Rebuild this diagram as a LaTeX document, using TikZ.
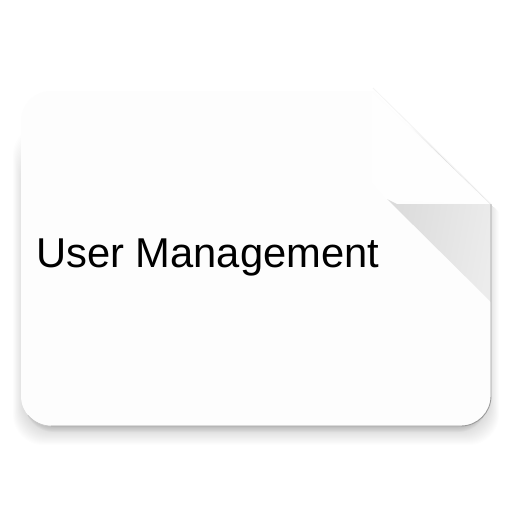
\documentclass[tikz,border=0pt]{standalone}
\usepackage{fontspec}
\setmainfont{Liberation Sans}
\definecolor{pagefill}{HTML}{FDFDFD}
\definecolor{flapfill}{HTML}{FEFEFE}
\definecolor{edgegrey}{HTML}{9A9A9A}
\definecolor{foldline}{HTML}{F4F4F4}
\definecolor{foldA}{HTML}{DBDBDB}
\definecolor{foldB}{HTML}{ECECEC}
\newcommand{\cardpath}{(51,91) -- (373,91) -- (491,205) -- (491,396) arc[start angle=0,end angle=90,radius=30] -- (51,426) arc[start angle=90,end angle=180,radius=30] -- (21,121) arc[start angle=180,end angle=270,radius=30] -- cycle}
\tikzset{shadowlayer/.style={fill=black,fill opacity=0.009,draw=none,rounded corners=30pt}}
\begin{document}
\begin{tikzpicture}[x=1pt,y=-1pt]
\useasboundingbox (0,0) rectangle (512,512);
\fill[white] (0,0) rectangle (512,512);
% soft shadow, kept away from the cut corner
\begin{scope}
\clip (0,0) -- (373,0) -- (373,88) -- (512,225) -- (512,512) -- (0,512) -- cycle;
\foreach \g in {0,1,...,15}{
  \pgfmathsetmacro{\grow}{8-0.6*\g}
  \pgfmathsetmacro{\drop}{19-0.9*\g}
  \fill[shadowlayer] ({21-\grow},{125+2*\g}) rectangle ({491+\grow},{426+\drop});
}
\foreach \g in {0,1,...,5}{
  \pgfmathsetmacro{\drop}{6-0.9*\g}
  \fill[black,fill opacity=0.022,rounded corners=30pt] (24,300) rectangle (488,{426+\drop});
}
\end{scope}
% page
\fill[pagefill] \cardpath;
% folded corner, pale flap
\fill[flapfill] (372,92) -- (490,205) -- (387,200) -- (372,183) -- cycle;
\draw[foldline,line width=0.8pt] (373,88) -- (491,204);
% fold triangle
\shade[left color=foldA,right color=foldB,shading angle=80] (387,199) -- (397,204) -- (491,204) -- (491,302) -- cycle;
% page edge
\draw[edgegrey,line width=0.9pt] (491,204) -- (491,396) arc[start angle=0,end angle=90,radius=30] -- (51,426);
\draw[edgegrey!55,line width=0.7pt] (51,426) arc[start angle=90,end angle=140,radius=30];
\node[anchor=base west,inner sep=0pt,font=\fontsize{41.7}{44}\selectfont,text=black] (title) at (36,267) {User Management};
\end{tikzpicture}
\end{document}
